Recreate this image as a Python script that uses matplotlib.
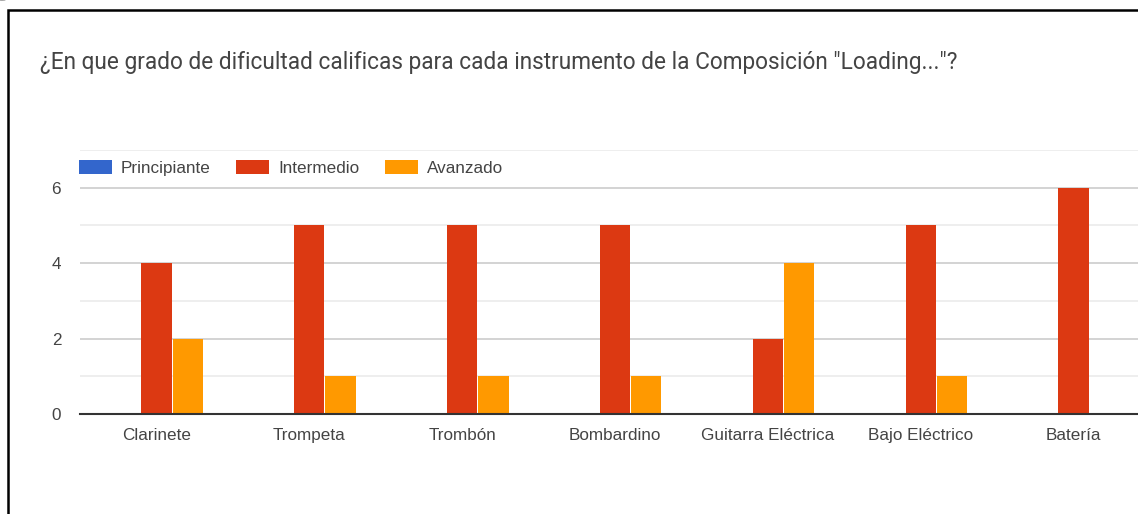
import numpy as np
import matplotlib.pyplot as plt
from matplotlib.patches import Rectangle, Circle

instrumentos = ["Clarinete", "Trompeta", "Trombón", "Bombardino",
                "Guitarra Eléctrica", "Bajo Eléctrico", "Batería"]
principiante = [0, 0, 0, 0, 0, 0, 0]
intermedio = [4, 5, 5, 5, 2, 5, 6]
avanzado = [2, 1, 1, 1, 4, 1, 0]
yticks = [0, 2, 4, 6]

titulo = '¿En que grado de dificultad calificas para cada instrumento de la Composición "Loading..."?'

plt.rcParams['font.family'] = ['Liberation Sans', 'DejaVu Sans']

fig = plt.figure(figsize=(11.38, 5.14), dpi=100)
ax = fig.add_axes([80 / 1138, 1 - 414 / 514, 1070 / 1138, 264 / 514])

x = np.arange(len(instrumentos))
w = 0.198
off = 0.205
ax.bar(x - off, principiante, w, color="#3366CC", label="Principiante", zorder=3)
ax.bar(x, intermedio, w, color="#DC3912", label="Intermedio", zorder=3)
ax.bar(x + off, avanzado, w, color="#FF9900", label="Avanzado", zorder=3)

ax.set_xlim(-0.5, 6.5)
ax.set_ylim(0, 7)
ax.set_yticks(yticks)
ax.set_yticks([1, 3, 5, 7], minor=True)
ax.set_xticks(x)
ax.set_xticklabels(instrumentos)
ax.tick_params(axis="both", length=0, labelsize=12.3, labelcolor="#444444")
ax.tick_params(axis="x", pad=10)
ax.tick_params(axis="y", pad=13.5)
ax.tick_params(axis="y", which="minor", length=0)
ax.grid(axis="y", which="major", color="#cccccc", linewidth=1.2, zorder=0)
ax.grid(axis="y", which="minor", color="#ebebeb", linewidth=1.2, zorder=0)
for s in ["top", "right", "left"]:
    ax.spines[s].set_visible(False)
ax.spines["bottom"].set_color("#333333")
ax.spines["bottom"].set_linewidth(1.5)
ax.spines["bottom"].set_zorder(4)

leg = ax.legend(loc="center left", bbox_to_anchor=(-0.001, 6.52 / 7), ncol=3,
                frameon=False, fontsize=12.3, handlelength=1.93, handleheight=0.82,
                handletextpad=0.53, columnspacing=1.5, borderaxespad=0, borderpad=0)
for t in leg.get_texts():
    t.set_color("#444444")

fig.text(40 / 1138, 1 - 62 / 514, titulo, fontsize=16.3, color="#444444",
         family=["Roboto", "DejaVu Sans"], ha="left", va="center")

# marco del recorte
fig.patches.append(Rectangle((8 / 1138, -0.1), 1.2, 1 - 10 / 514 + 0.1,
                             transform=fig.transFigure, fill=False,
                             edgecolor="black", linewidth=1.8))
fig.patches.append(Circle((2 / 1138, 1 + 6 / 514), 0.011,
                          transform=fig.transFigure, fill=False,
                          edgecolor="black", linewidth=1.0))

fig.savefig("out.png", dpi=100)
